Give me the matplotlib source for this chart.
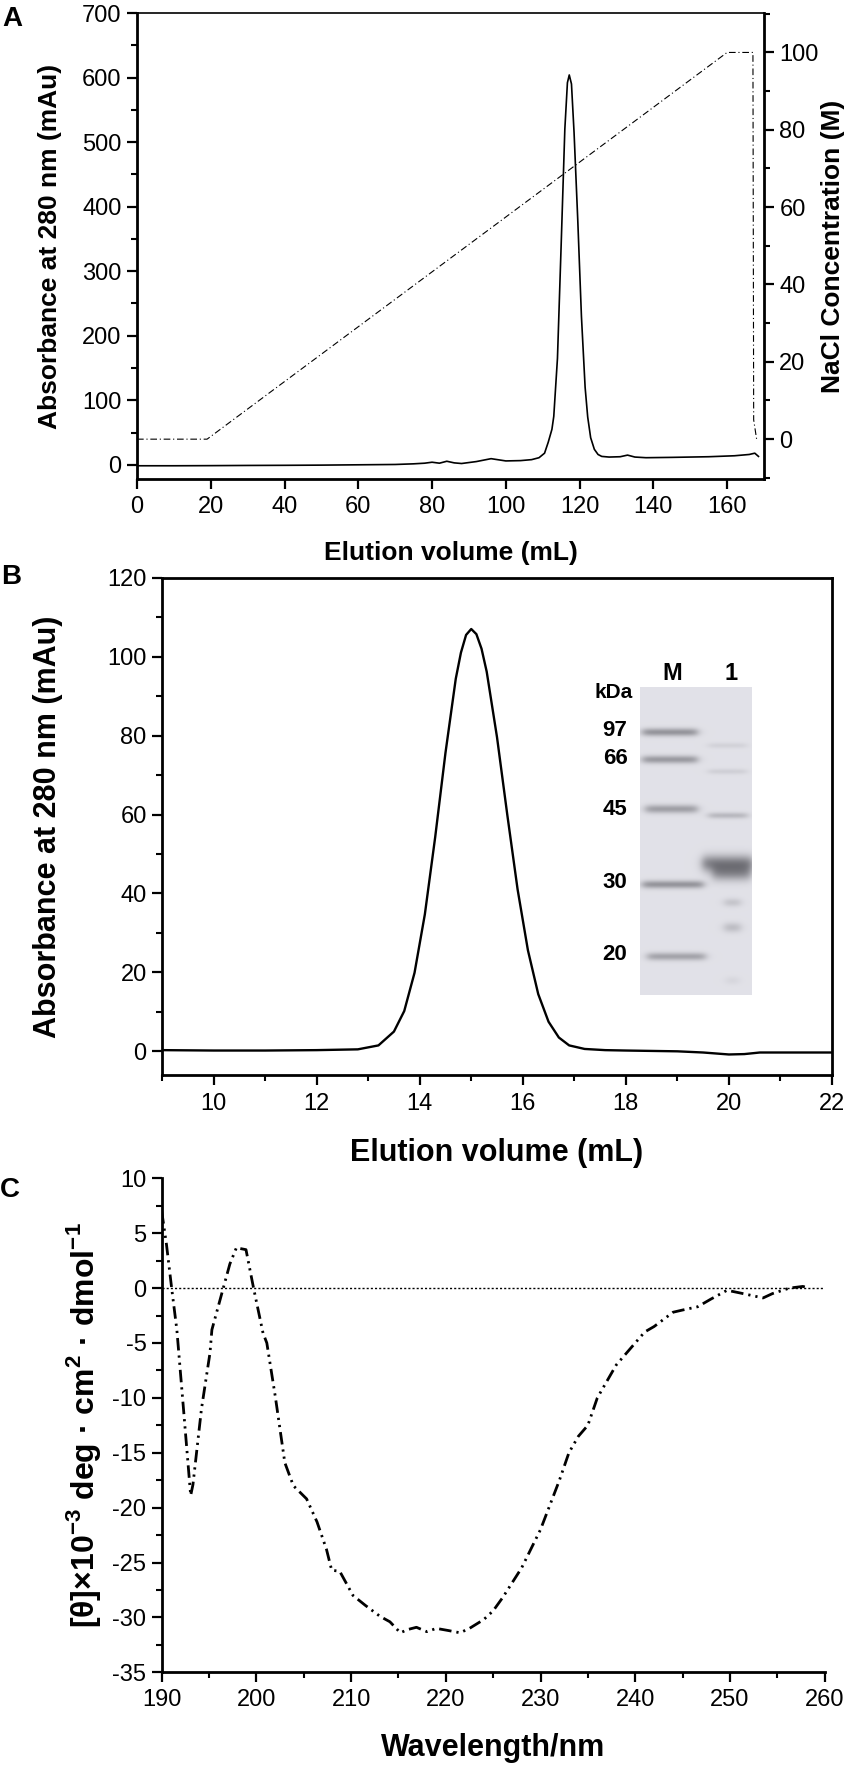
import numpy as np
import matplotlib
matplotlib.use('Agg')
import matplotlib.pyplot as plt
from matplotlib.ticker import MultipleLocator

plt.rcParams['font.family'] = ['Liberation Sans', 'DejaVu Sans']
plt.rcParams['axes.unicode_minus'] = False
plt.rcParams['mathtext.fontset'] = 'custom'
plt.rcParams['mathtext.rm'] = 'Liberation Sans'
plt.rcParams['mathtext.bf'] = 'Liberation Sans:bold'

# ---------------- Panel A data ----------------
a_vol = [0, 10, 20, 30, 40, 50, 60, 70, 75, 78, 80, 82, 84, 86, 88, 92, 96, 100,
         104, 107, 109, 110.5, 111.5, 112.5, 113, 114, 115, 116, 116.7, 117.2,
         117.8, 118.5, 119.5, 120.5, 121.5, 122.2, 123, 124, 125, 126, 128, 131,
         133, 135, 138, 145, 155, 162, 166, 167.5, 168.5]
a_abs = [-1.5, -1.5, -1.3, -1.0, -0.8, -0.5, 0, 0.5, 1.5, 2.5, 4, 2.5, 5.5, 3, 2,
         5, 9.5, 6, 6.5, 8, 11, 18, 35, 55, 75, 165, 340, 520, 592, 604,
         590, 515, 380, 230, 120, 74, 42, 24, 16, 13, 12, 12.5,
         15, 12, 11, 11.5, 12.5, 14, 16, 18, 13]
nacl_vol = [0, 19, 160, 167, 167.2, 168]
nacl_conc = [0, 0, 100, 100, 5, 0]

# ---------------- Panel B data ----------------
b_vol = [9.0, 10, 11, 12, 12.8, 13.2, 13.5, 13.7, 13.9, 14.1, 14.3, 14.5, 14.7,
         14.8, 14.9, 15.0, 15.1, 15.2, 15.3, 15.5, 15.7, 15.9, 16.1, 16.3, 16.5,
         16.7, 16.9, 17.2, 17.6, 18.0, 19.0, 19.5, 20.0, 20.3, 20.6, 21.0, 22.0]
b_abs = [0.3, 0.2, 0.2, 0.3, 0.5, 1.5, 5.0, 10.2, 19.9, 34.7, 54.2, 75.6, 94.4,
         101, 105.5, 107, 105.7, 102, 96.2, 79.6, 59.9, 41, 25.6, 14.5, 7.5,
         3.5, 1.5, 0.6, 0.3, 0.2, 0.0, -0.3, -0.8, -0.7, -0.3, -0.3, -0.3]

# Gel inset bands: (y centre, x start, x end, sigma, darkness) in gel pixels
gel_bands_y = [44.7, 72, 121.5, 197, 269, 58, 84, 128, 176, 186, 215, 240, 293]
gel_bands_x0 = [2, 2, 5, 2, 7, 68, 68, 68, 62, 72, 84, 84, 86]
gel_bands_x1 = [57, 57, 57, 63, 65, 106, 106, 107, 112, 110, 100, 100, 98]
gel_bands_sig = [2.8, 2.8, 3.0, 2.8, 2.8, 2.0, 2.0, 2.2, 6.0, 5.5, 3.0, 3.5, 3.0]
gel_bands_dark = [0.30, 0.28, 0.26, 0.30, 0.24, 0.06, 0.07, 0.16, 0.38, 0.28, 0.12, 0.15, 0.05]
gel_labels = ['97', '66', '45', '30', '20']
gel_label_y = [731, 758, 810, 883, 954]

# ---------------- Panel C data ----------------
c_wl = [190.0, 190.5, 191.05, 191.6, 192.3, 193.06, 193.3, 194.2, 195.1, 195.3,
        196.5, 197.2, 197.9, 198.3, 198.9, 199.7, 200.7, 201.1, 202.0, 203.0,
        203.9, 205.3, 206.4, 207.4, 207.95, 208.8, 210.2, 211.5, 213.05, 214.1,
        215.2, 216.0, 216.9, 218.0, 219.0, 220.3, 221.5, 222.5, 224.0, 225.0,
        226.0, 228.0, 230.0, 232.0, 233.0, 234.0, 235.0, 236.0, 237.0, 238.0,
        240.0, 241.0, 242.0, 244.0, 245.0, 246.6, 248.0, 249.7, 251.1, 253.5,
        254.5, 256.3, 257.7, 258.4]
c_theta = [7.0, 4.0, 0.0, -3.8, -11.0, -18.9, -17.9, -11.0, -5.9, -3.8,
           0.0, 2.2, 3.7, 3.6, 3.5, 0.0, -4.1, -5.0, -9.9, -15.9,
           -18.0, -19.2, -21.3, -23.8, -25.7, -25.8, -28.0, -28.9, -29.9, -30.4,
           -31.4, -31.1, -30.9, -31.3, -31.0, -31.2, -31.4, -31.0, -30.2, -29.4,
           -28.2, -25.5, -22.0, -17.5, -15.0, -13.5, -12.5, -10.0, -8.5, -7.0,
           -5.0, -4.0, -3.5, -2.2, -2.0, -1.7, -1.0, -0.2, -0.45, -0.9,
           -0.5, 0.0, 0.15, 0.0]

W, H = 850, 1768
fig = plt.figure(figsize=(W / 100, H / 100), dpi=100)

def rect(l, r, t, b):
    return [l / W, 1 - b / H, (r - l) / W, (b - t) / H]

TICK_FS = 17
def style_ticks(ax, axis='both'):
    ax.tick_params(axis=axis, which='major', direction='out', length=7,
                   width=1.6, labelsize=TICK_FS, pad=4, colors='black')
    ax.tick_params(axis=axis, which='minor', direction='out', length=4,
                   width=1.5)

# ================= Panel A =================
axA = fig.add_axes(rect(137, 764, 13, 479))
axA.plot(a_vol, a_abs, color='black', lw=1.2)
axA.set_xlim(0, 170)
axA.set_ylim(-22, 700)
axA.xaxis.set_major_locator(MultipleLocator(20))
axA.yaxis.set_major_locator(MultipleLocator(100))
axA.yaxis.set_minor_locator(MultipleLocator(50))
style_ticks(axA)
axA.tick_params(axis='x', pad=5)
axA.tick_params(top=False, right=False)
for s in ['left', 'bottom']:
    axA.spines[s].set_linewidth(2.0)
axA.spines['top'].set_linewidth(1.2)
axA.spines['right'].set_visible(False)

axA2 = axA.twinx()
axA2.plot(nacl_vol, nacl_conc, color='black', lw=0.8,
          linestyle=(0, (6, 2.5, 1, 2.5)))
axA2.set_ylim(-10.3, 110.2)
axA2.yaxis.set_major_locator(MultipleLocator(20))
axA2.yaxis.set_minor_locator(MultipleLocator(10))
style_ticks(axA2, 'y')
for s in ['left', 'top', 'bottom']:
    axA2.spines[s].set_visible(False)
axA2.spines['right'].set_linewidth(2.0)

axA.set_xlabel('Elution volume (mL)', fontsize=19, fontweight='bold')
axA.xaxis.label.set_va('center')
axA.xaxis.set_label_coords(0.5, (479 - 553) / 466)
axA.set_ylabel('Absorbance at 280 nm (mAu)', fontsize=19, fontweight='bold')
axA.yaxis.label.set_va('center')
axA.yaxis.set_label_coords((50 - 137) / 627, 0.5)
axA2.set_ylabel('NaCl Concentration (M)', fontsize=19, fontweight='bold',
                rotation=90)
axA2.yaxis.label.set_va('center')
axA2.yaxis.set_label_coords((833 - 137) / 627, 0.5)

# ================= Panel B =================
axB = fig.add_axes(rect(162, 832, 577.7, 1075))
axB.plot(b_vol, b_abs, color='black', lw=1.7)
axB.set_xlim(9, 22)
axB.set_ylim(-6, 120)
axB.xaxis.set_major_locator(MultipleLocator(2))
axB.xaxis.set_minor_locator(MultipleLocator(1))
axB.yaxis.set_major_locator(MultipleLocator(20))
axB.yaxis.set_minor_locator(MultipleLocator(10))
style_ticks(axB)
axB.tick_params(axis='x', pad=6)
axB.tick_params(which='both', top=False, right=False)
for s in axB.spines.values():
    s.set_linewidth(2.0)
axB.set_xlabel('Elution volume (mL)', fontsize=22, fontweight='bold')
axB.xaxis.label.set_va('center')
axB.xaxis.set_label_coords(0.5, (1075 - 1153) / 497.3)
axB.set_ylabel('Absorbance at 280 nm (mAu)', fontsize=22, fontweight='bold')
axB.yaxis.label.set_va('center')
axB.yaxis.set_label_coords((48 - 162) / 670, 0.5)

# Gel inset (drawn)
gel_w, gel_h = 112, 308
yy, xx = np.mgrid[0:gel_h, 0:gel_w].astype(float)
gel = np.full((gel_h, gel_w), 0.885)
def soft(x, a, b, s=2.5):
    return 1 / (1 + np.exp(-(x - a) / s)) / (1 + np.exp((x - b) / s))
for yc, x0, x1, sg, dk in zip(gel_bands_y, gel_bands_x0, gel_bands_x1,
                              gel_bands_sig, gel_bands_dark):
    gel -= dk * np.exp(-0.5 * ((yy - yc) / sg) ** 2) * soft(xx, x0, x1)
gel = np.clip(gel, 0, 1)
gel_rgb = np.dstack([gel, gel, np.clip(gel + 0.025, 0, 1)])
axG = fig.add_axes(rect(640, 752, 687, 995))
axG.imshow(gel_rgb, aspect='auto', interpolation='bilinear')
axG.axis('off')

narrow = ['Liberation Sans Narrow', 'Liberation Sans', 'DejaVu Sans']
fig.text(614 / W, 1 - 693 / H, 'kDa', fontsize=15, fontweight='bold',
         ha='center', va='center', family=narrow)
fig.text(672 / W, 1 - 674 / H, 'M', fontsize=17, fontweight='bold',
         ha='center', va='center', family=narrow)
fig.text(731 / W, 1 - 674 / H, '1', fontsize=17, fontweight='bold',
         ha='center', va='center', family=narrow)
for lab, ly in zip(gel_labels, gel_label_y):
    fig.text(615 / W, 1 - ly / H, lab, fontsize=16, fontweight='bold',
             ha='center', va='center', family=narrow)

# ================= Panel C =================
axC = fig.add_axes(rect(161.7, 824.6, 1178.3, 1672.3))
axC.axhline(0, xmin=0, xmax=1, color='black', lw=1.0,
            linestyle=(0, (1.5, 1.5)))
axC.plot(c_wl, c_theta, color='black', lw=2.0,
         linestyle=(0, (4.5, 1.8, 0.8, 1.8, 0.8, 1.8)))
axC.set_xlim(190, 260)
axC.set_ylim(-35, 10)
axC.xaxis.set_major_locator(MultipleLocator(10))
axC.xaxis.set_minor_locator(MultipleLocator(5))
axC.yaxis.set_major_locator(MultipleLocator(5))
axC.yaxis.set_minor_locator(MultipleLocator(2.5))
style_ticks(axC)
axC.tick_params(axis='x', pad=5)
axC.tick_params(which='both', top=False, right=False)
axC.spines['top'].set_visible(False)
axC.spines['right'].set_visible(False)
axC.spines['left'].set_linewidth(2.0)
axC.spines['bottom'].set_linewidth(2.0)
axC.set_xlabel('Wavelength/nm', fontsize=22, fontweight='bold')
axC.xaxis.label.set_va('center')
axC.xaxis.set_label_coords(0.5, (1672.3 - 1748) / 494)
axC.set_ylabel(r'[θ]×10$^{\mathbf{-3}}$ deg · cm$^{\mathbf{2}}$ · dmol$^{\mathbf{-1}}$',
               fontsize=23, fontweight='bold')
axC.yaxis.label.set_va('center')
axC.yaxis.set_label_coords((84 - 161.7) / 662.9, 0.5)

# Panel letters
for letter, (lx, ly) in zip(['A', 'B', 'C'], [(12, 19), (11, 577), (10, 1190)]):
    fig.text(lx / W, 1 - ly / H, letter, fontsize=20, fontweight='bold',
             ha='center', va='center')

fig.savefig('out.png', dpi=100)
